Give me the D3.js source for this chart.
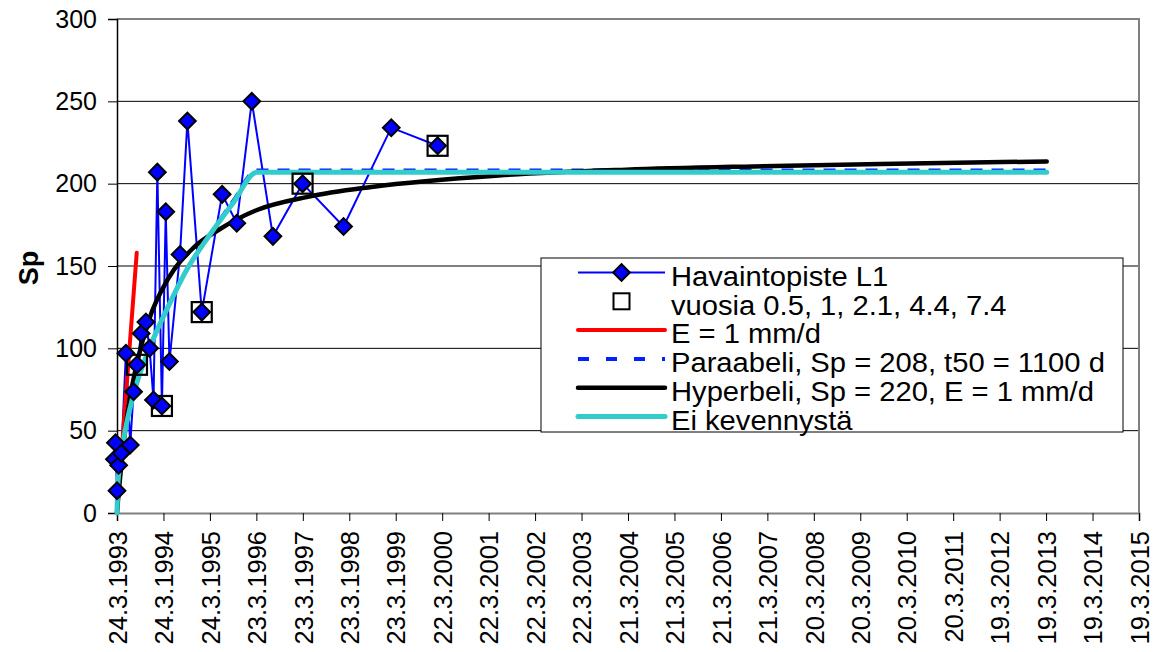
<!DOCTYPE html>
<html>
<head>
<meta charset="utf-8">
<script src="https://cdn.jsdelivr.net/npm/d3@7"></script>
<style>
  html, body { margin: 0; padding: 0; background: #fff; }
  svg { display: block; font-family: Arial, "Liberation Sans", sans-serif; }
</style>
</head>
<body>
<svg id="chart" width="1155" height="652"></svg>
<script>
// ---- data (days since 24.3.1993, Sp in mm) ----
const obsDays = [-20, -12, 0, 13, 34, 70, 104, 130, 157, 190, 227, 256, 287, 317, 353, 383, 412, 495, 553, 666, 826, 941, 1059, 1225, 1458, 1780, 2155, 2519];
const obsSp   = [32.6, 42.7, 13.5, 29, 36.3, 97, 41.3, 73.7, 90, 109, 116, 100, 68.6, 207, 65, 183, 92, 157, 238, 122, 193.5, 176, 250, 168, 200, 174, 234, 223];

const markDays = [157, 353, 666, 1458, 2519];
const markSp   = [90, 65, 122, 200, 223];

const redDays = [0, 155];
const redSp   = [0, 158];

const paraDays = [0, 5, 20, 50, 130, 260, 400, 550, 730, 910, 1100, 7305];
const paraSp   = [0, 14, 28, 44, 72, 101, 125, 148, 169, 189, 208, 208];

const hypDays = [0, 10, 25, 50, 100, 160, 250, 400, 600, 800, 1100, 1500, 2000, 3000, 4000, 5000, 6000, 7305];
const hypSp   = [0, 10, 22, 41, 69, 92, 117, 142, 161, 172, 184, 192, 198, 205, 208.5, 210.5, 212, 213.5];

const eiDays = [0, 5, 20, 50, 130, 260, 400, 550, 730, 910, 1100, 7305];
const eiSp   = [0, 14, 28, 44, 72, 101, 125, 148, 169, 188, 207, 207];

const xTickLabels = ["24.3.1993","24.3.1994","24.3.1995","23.3.1996","23.3.1997","23.3.1998","23.3.1999","22.3.2000","22.3.2001","22.3.2002","22.3.2003","21.3.2004","21.3.2005","21.3.2006","21.3.2007","20.3.2008","20.3.2009","20.3.2010","20.3.2011","19.3.2012","19.3.2013","19.3.2014","19.3.2015"];
const yTicks = [0, 50, 100, 150, 200, 250, 300];

const legendLabels = ["Havaintopiste L1", "vuosia 0.5, 1, 2.1, 4.4, 7.4", "E = 1 mm/d", "Paraabeli, Sp = 208, t50 = 1100 d", "Hyperbeli, Sp = 220, E = 1 mm/d", "Ei kevennystä"];

// ---- layout ----
const L = 117, R = 1139, T = 19, B = 513;
const svg = d3.select("#chart");
const x = d3.scaleLinear().domain([0, 365 * (xTickLabels.length - 1)]).range([L, R]);
const y = d3.scaleLinear().domain([0, 300]).range([B, T]);

// gridlines
svg.append("g").selectAll("line").data(yTicks.filter(v => v > 0 && v < 300)).join("line")
  .attr("x1", L).attr("x2", R).attr("y1", d => y(d)).attr("y2", d => y(d))
  .attr("stroke", "#000").attr("stroke-width", 1);

// plot border (top, right)
svg.append("path")
  .attr("d", `M${L},${y(300)}H${R}V${B}`)
  .attr("fill", "none").attr("stroke", "#808080").attr("stroke-width", 2);

// y axis
const yAxis = d3.axisLeft(y).tickValues(yTicks).tickSize(9).tickPadding(11).tickFormat(d3.format("d"));
const gy = svg.append("g").attr("transform", `translate(${L},0)`).call(yAxis);
gy.select(".domain").attr("stroke", "#000").attr("stroke-width", 1.5);
gy.selectAll(".tick line").attr("stroke", "#000");
gy.selectAll(".tick text").attr("font-size", 25).attr("fill", "#000").attr("font-family", "Arial, 'Liberation Sans', sans-serif");

// x axis
const xAxis = d3.axisBottom(x).tickValues(xTickLabels.map((d, i) => i * 365)).tickSize(8)
  .tickFormat((d, i) => xTickLabels[i]);
const gx = svg.append("g").attr("transform", `translate(0,${B})`).call(xAxis);
gx.select(".domain").attr("stroke", "#808080").attr("stroke-width", 2);
gx.selectAll(".tick line").attr("stroke", "#000");
gx.selectAll(".tick text")
  .attr("font-size", 25.5).attr("fill", "#000").attr("font-family", "Arial, 'Liberation Sans', sans-serif")
  .attr("text-anchor", "end")
  .attr("transform", "rotate(-90)")
  .attr("x", -18).attr("y", 0).attr("dy", "0.36em");

// y title
svg.append("text").attr("transform", `translate(38,268) rotate(-90)`)
  .attr("text-anchor", "middle").attr("font-size", 27).attr("font-weight", "bold").text("Sp");

// ---- series ----
const line = (days, vals, curve) => d3.line().x((d, i) => x(days[i])).y((d, i) => y(vals[i])).curve(curve)(vals);

svg.append("path").attr("d", line(obsDays, obsSp, d3.curveLinear))
  .attr("fill", "none").attr("stroke", "#0000ff").attr("stroke-width", 2);
svg.append("path").attr("d", line(redDays, redSp, d3.curveLinear))
  .attr("fill", "none").attr("stroke", "#ff0000").attr("stroke-width", 4).attr("stroke-linecap", "round");
svg.append("path").attr("d", line(paraDays, paraSp, d3.curveMonotoneX))
  .attr("fill", "none").attr("stroke", "#0022ff").attr("stroke-width", 4).attr("stroke-dasharray", "12,9");
svg.append("path").attr("d", line(hypDays, hypSp, d3.curveMonotoneX))
  .attr("fill", "none").attr("stroke", "#000").attr("stroke-width", 4.5).attr("stroke-linecap", "round");
svg.append("path").attr("d", line(eiDays, eiSp, d3.curveMonotoneX))
  .attr("fill", "none").attr("stroke", "#33cccc").attr("stroke-width", 5).attr("stroke-linecap", "round");

// squares
const sq = 20;
svg.append("g").selectAll("rect").data(markDays).join("rect")
  .attr("x", d => x(d) - sq / 2).attr("y", (d, i) => y(markSp[i]) - sq / 2)
  .attr("width", sq).attr("height", sq)
  .attr("fill", "none").attr("stroke", "#000").attr("stroke-width", 2.2);

// diamonds
const diamond = d3.symbol(d3.symbolSquare, 140)();
svg.append("g").selectAll("path").data(obsDays).join("path")
  .attr("d", diamond)
  .attr("transform", (d, i) => `translate(${x(d)},${y(obsSp[i])}) rotate(45)`)
  .attr("fill", "#0000ff").attr("stroke", "#000").attr("stroke-width", 2);

// ---- legend ----
const lg = svg.append("g");
lg.append("rect").attr("x", 541).attr("y", 258).attr("width", 582).attr("height", 174)
  .attr("fill", "#fff").attr("stroke", "#000").attr("stroke-width", 1);
const rowY = i => 272.5 + i * 28.8;
const sx1 = 578, sx2 = 665, sxc = (sx1 + sx2) / 2;
// row 0
lg.append("line").attr("x1", sx1).attr("x2", sx2).attr("y1", rowY(0)).attr("y2", rowY(0)).attr("stroke", "#0000ff").attr("stroke-width", 2);
lg.append("path").attr("d", diamond).attr("transform", `translate(${sxc},${rowY(0)}) rotate(45)`)
  .attr("fill", "#0000ff").attr("stroke", "#000").attr("stroke-width", 2);
// row 1
lg.append("rect").attr("x", sxc - 8).attr("y", rowY(1) - 8).attr("width", 16).attr("height", 16)
  .attr("fill", "none").attr("stroke", "#000").attr("stroke-width", 2);
// rows 2-5
const legStyles = [
  {c: "#ff0000", w: 4, dash: null},
  {c: "#0022ff", w: 4, dash: "11,17"},
  {c: "#000", w: 4.5, dash: null},
  {c: "#33cccc", w: 5, dash: null}
];
legStyles.forEach((s, k) => {
  const l = lg.append("line").attr("x1", sx1).attr("x2", sx2).attr("y1", rowY(k + 2)).attr("y2", rowY(k + 2))
    .attr("stroke", s.c).attr("stroke-width", s.w).attr("stroke-linecap", s.dash ? "butt" : "round");
  if (s.dash) l.attr("stroke-dasharray", s.dash);
});
lg.selectAll("text").data(legendLabels).join("text")
  .attr("transform", (d, i) => `translate(671,${rowY(i) + 3.5}) scale(1.08,1)`)
  .attr("dy", "0.36em").attr("font-size", 27).attr("fill", "#000").text(d => d);
</script>
</body>
</html>
